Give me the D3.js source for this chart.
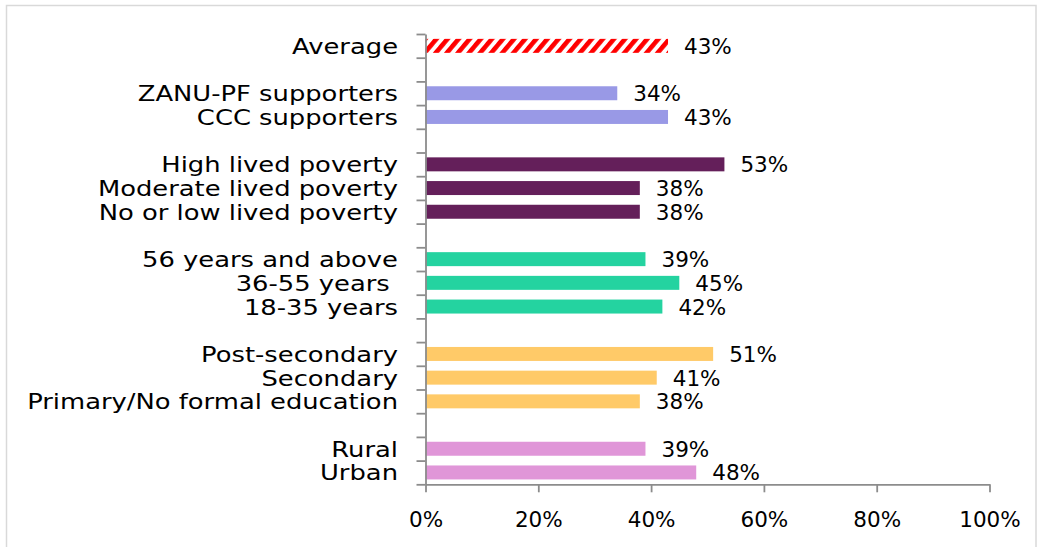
<!DOCTYPE html>
<html>
<head>
<meta charset="utf-8">
<script src="https://cdn.jsdelivr.net/npm/d3@7"></script>
<style>
  html, body { margin: 0; padding: 0; background: #fff; }
  svg { display: block; }
  text { font-family: "DejaVu Sans", sans-serif; fill: #000; }
</style>
</head>
<body>
<svg id="chart" width="1037" height="547"></svg>
<script>
// Share of respondents, by group
const categories = [
  "Average",
  "ZANU-PF supporters", "CCC supporters",
  "High lived poverty", "Moderate lived poverty", "No or low lived poverty",
  "56 years and above", "36-55 years ", "18-35 years",
  "Post-secondary", "Secondary", "Primary/No formal education",
  "Rural", "Urban"
];
const values = [43, 34, 43, 53, 38, 38, 39, 45, 42, 51, 41, 38, 39, 48];
const groups = [0, 1, 1, 2, 2, 2, 3, 3, 3, 4, 4, 4, 5, 5];
const xTicks = [0, 20, 40, 60, 80, 100];

// One colour per group; group 0 is drawn with a hatch instead
const groupColors = [null, "#9999E6", "#641F5A", "#24D3A0", "#FFCA68", "#E096D8"];

const plotLeft = 425.5, plotRight = 989.5, plotTop = 34, plotBottom = 484.3;

const svg = d3.select("#chart");

// Light frame around the chart area
svg.append("rect")
  .attr("x", 6.5).attr("y", 5.5)
  .attr("width", 1029.5).attr("height", 600)
  .attr("fill", "none")
  .attr("stroke", "#D9D9D9")
  .attr("stroke-width", 1.5);

// Red diagonal hatch for the overall average
const defs = svg.append("defs");
const hatch = defs.append("pattern")
  .attr("id", "hatch")
  .attr("patternUnits", "userSpaceOnUse")
  .attr("width", 8.5).attr("height", 8.5)
  .attr("patternTransform", "rotate(40)");
hatch.append("rect").attr("width", 8.5).attr("height", 8.5).attr("fill", "#fff");
hatch.append("rect").attr("width", 4.6).attr("height", 8.5).attr("fill", "#FF0000");

// Row slots, with an empty slot between groups
const rows = [];
categories.forEach((c, i) => {
  if (i > 0 && groups[i] !== groups[i - 1]) rows.push("gap-" + i);
  rows.push(c);
});

const y = d3.scaleBand()
  .domain(rows)
  .range([plotTop, plotBottom])
  .paddingInner(0.41)
  .paddingOuter(0.205);

const x = d3.scaleLinear().domain([0, 100]).range([plotLeft, plotRight]);

// Bars
svg.append("g").selectAll("rect")
  .data(categories)
  .join("rect")
  .attr("x", x(0))
  .attr("y", d => y(d))
  .attr("width", (d, i) => x(values[i]) - x(0))
  .attr("height", y.bandwidth())
  .attr("fill", (d, i) => groups[i] === 0 ? "url(#hatch)" : groupColors[groups[i]]);

// Value labels at the end of each bar
svg.append("g").selectAll("text")
  .data(categories)
  .join("text")
  .attr("x", (d, i) => x(values[i]) + 16)
  .attr("y", d => y(d) + y.bandwidth() / 2)
  .attr("dy", "0.37em")
  .style("font-size", "21.5px")
  .text((d, i) => values[i] + "%");

// Category labels, widened to the chart's typeface proportions
svg.append("g").selectAll("g")
  .data(categories)
  .join("g")
  .attr("transform", d => `translate(398, ${y(d) + y.bandwidth() / 2}) scale(1.2, 1)`)
  .append("text")
  .attr("text-anchor", "end")
  .attr("dy", "0.37em")
  .style("font-size", "21.5px")
  .style("white-space", "pre")
  .text(d => d);

// Y axis: ticks at the slot boundaries
const yIdx = d3.scaleLinear().domain([0, rows.length]).range([plotTop, plotTop + y.step() * rows.length]);
const yAxis = svg.append("g")
  .attr("transform", `translate(${plotLeft},0)`)
  .call(d3.axisLeft(yIdx).tickValues(d3.range(rows.length + 1)).tickFormat("").tickSize(9).tickSizeOuter(0));

// X axis
const xAxis = svg.append("g")
  .attr("transform", `translate(0,${plotBottom})`)
  .call(d3.axisBottom(x).tickValues(xTicks).tickFormat(d => d + "%").tickSize(8).tickSizeOuter(0).tickPadding(19));

[yAxis, xAxis].forEach(a => {
  a.select(".domain").attr("stroke", "#8C8C8C").attr("stroke-width", 1.8);
  a.selectAll(".tick line").attr("stroke", "#8C8C8C").attr("stroke-width", 1.8);
});
xAxis.selectAll(".tick text")
  .attr("fill", "#000")
  .style("font-size", "21.5px")
  .style("font-family", "'DejaVu Sans', sans-serif");
</script>
</body>
</html>
